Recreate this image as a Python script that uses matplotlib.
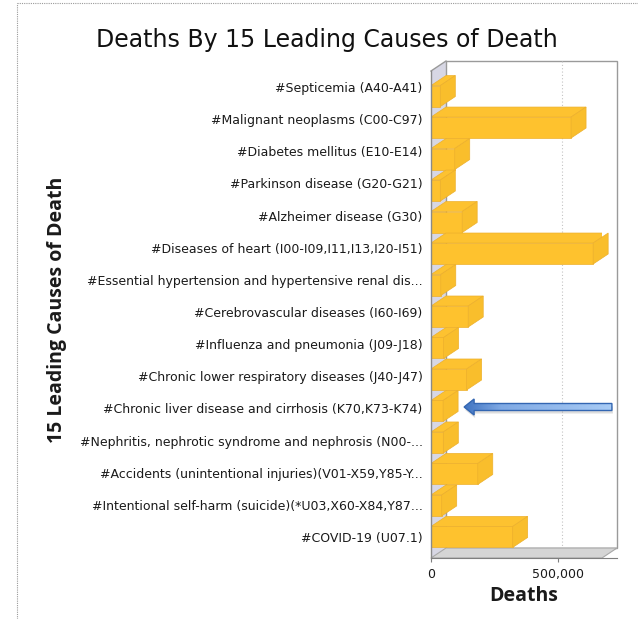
import numpy as np
import matplotlib
matplotlib.use("Agg")
import matplotlib.pyplot as plt
from matplotlib.patches import Polygon
from matplotlib.lines import Line2D

causes = [
    "#Septicemia (A40-A41)",
    "#Malignant neoplasms (C00-C97)",
    "#Diabetes mellitus (E10-E14)",
    "#Parkinson disease (G20-G21)",
    "#Alzheimer disease (G30)",
    "#Diseases of heart (I00-I09,I11,I13,I20-I51)",
    "#Essential hypertension and hypertensive renal dis...",
    "#Cerebrovascular diseases (I60-I69)",
    "#Influenza and pneumonia (J09-J18)",
    "#Chronic lower respiratory diseases (J40-J47)",
    "#Chronic liver disease and cirrhosis (K70,K73-K74)",
    "#Nephritis, nephrotic syndrome and nephrosis (N00-...",
    "#Accidents (unintentional injuries)(V01-X59,Y85-Y...",
    "#Intentional self-harm (suicide)(*U03,X60-X84,Y87...",
    "#COVID-19 (U07.1)",
]
deaths = [40000, 602000, 102000, 40000, 134000, 697000, 42000, 160000,
          54000, 153000, 52000, 53000, 201000, 46000, 351000]
x_ticks = [0, 500000]
x_tick_labels = ["0", "500,000"]
highlight = 10  # chronic liver disease

W, H, DPI = 638, 619, 100
fig = plt.figure(figsize=(W / DPI, H / DPI), dpi=DPI)


def px_box(x0, y0, x1, y1):
    return [x0 / W, 1 - y1 / H, (x1 - x0) / W, (y1 - y0) / H]


xmax = 735000
ylim = (14.655, -0.809)
ytop, ybot = ylim[1], ylim[0]

# axis carrying the labels spans the whole data area, bars live on the front plane
lab = fig.add_axes(px_box(431, 61, 617, 558))
ax = fig.add_axes(px_box(431, 71, 602, 558))
for a in (lab, ax):
    a.set_xlim(0, xmax)
    a.set_ylim(*ylim)
    a.patch.set_visible(False)
lab.set_zorder(3)

front_w = 171
front_h = 487
rows_per_px = (ybot - ytop) / front_h
ddx = xmax * 15 / front_w
ddy = 10 * rows_per_px

# walls and floor
ax.add_patch(Polygon([(0, ytop), (0, ybot), (ddx, ybot - ddy), (ddx, ytop - ddy)],
                     closed=True, fc="#D7D7E4", ec="none", clip_on=False, zorder=1))
ax.add_patch(Polygon([(ddx, ytop - ddy), (xmax + ddx, ytop - ddy),
                      (xmax + ddx, ybot - ddy), (ddx, ybot - ddy)],
                     closed=True, fill=False, ec="#9A9A9A", lw=1, clip_on=False, zorder=1))
ax.add_patch(Polygon([(0, ybot), (xmax, ybot), (xmax + ddx, ybot - ddy), (ddx, ybot - ddy)],
                     closed=True, fc="#D5D5D5", ec="#A8A8A8", lw=0.8, clip_on=False, zorder=2))
ax.plot([0, ddx], [ytop, ytop - ddy], color="#9A9A9A", lw=1, clip_on=False, zorder=2)
ax.plot([0, 0], [ytop, ybot], color="#8A8A8A", lw=1, clip_on=False, zorder=6)
for t in x_ticks[1:]:
    ax.plot([t + ddx, t + ddx], [ytop - ddy, ybot - ddy], color="#C4C4C4",
            lw=0.8, ls=(0, (1, 2)), clip_on=False, zorder=1)

# 3d bars
bot_off = 0.32
fh = 21 * rows_per_px
rows = np.arange(len(causes))
face = "#FEC22E"
edge = "#EDB02C"
ax.barh(rows + bot_off - fh / 2, deaths, height=fh, color=face, edgecolor=edge,
        lw=0.5, zorder=4)
for k, v in enumerate(deaths):
    yb = k + bot_off
    yt = yb - fh
    ax.add_patch(Polygon([(0, yt), (v, yt), (v + ddx, yt - ddy), (ddx, yt - ddy)],
                         closed=True, fc="#FDC230", ec=edge, lw=0.5, zorder=4))
    ax.add_patch(Polygon([(v, yt), (v + ddx, yt - ddy), (v + ddx, yb - ddy), (v, yb)],
                         closed=True, fc="#F9BE2C", ec=edge, lw=0.5, zorder=4,
                         clip_on=False))

ax.set_xticks([])
ax.set_yticks([])
for s in ax.spines.values():
    s.set_visible(False)

# labels
lab.set_yticks(rows, causes, fontsize=9, color="#1A1A1A")
lab.set_xticks(x_ticks, x_tick_labels, fontsize=9, color="#1A1A1A")
lab.tick_params(axis="y", length=0, pad=6)
lab.tick_params(axis="x", length=3, color="#7F7F7F", pad=4)
for side in ("top", "right", "left"):
    lab.spines[side].set_visible(False)
lab.spines["bottom"].set_color("#7F7F7F")
lab.set_xlabel("Deaths", fontsize=14, fontweight="bold", family="Open Sans",
               color="#1A1A1A", va="center")
lab.xaxis.set_label_coords(0.5, -0.076)
lab.set_ylabel("15 Leading Causes of Death", fontsize=14, fontweight="bold",
               family="Open Sans", color="#1A1A1A", va="center")
lab.yaxis.set_label_coords(-2.01, 0.5)

fig.text(327 / W, 1 - 40 / H, "Deaths By 15 Leading Causes of Death",
         ha="center", va="center", fontsize=17, color="#111111")

# arrow pointing at the highlighted bar
xpp = xmax / front_w
tip = deaths[highlight] + ddx + 6 * xpp
tail = xmax * 1.058
cy = highlight - 0.14
sh = 3.5 * rows_per_px
hh = 8 * rows_per_px
hl = 10 * xpp
arrow_pts = [(tip, cy), (tip + hl, cy - hh), (tip + hl, cy - sh), (tail, cy - sh),
             (tail, cy + sh), (tip + hl, cy + sh), (tip + hl, cy + hh)]
shadow = [(x + 1 * xpp, y + 3 * rows_per_px) for x, y in arrow_pts]
ax.add_patch(Polygon(shadow, closed=True, fc="#7A7A7A", ec="none", alpha=0.25,
                     clip_on=False, zorder=7))
arrow = Polygon(arrow_pts, closed=True, fc="none", ec="#3366B2", lw=1,
                clip_on=False, zorder=9)
ax.add_patch(arrow)
grad = np.linspace(0, 1, 256).reshape(1, -1)
cmap = matplotlib.colors.LinearSegmentedColormap.from_list(
    "blu", [(0, "#3F73C1"), (0.25, "#7FA9E4"), (1, "#A8CBF5")])
im = ax.imshow(grad, cmap=cmap, aspect="auto", extent=(tip, tail, cy + hh, cy - hh),
               interpolation="bilinear", zorder=8)
im.set_clip_box(fig.bbox)
im.set_clip_path(arrow)
ax.set_xlim(0, xmax)
ax.set_ylim(*ylim)

# dotted frame
fig.add_artist(Line2D([17 / W, 17 / W], [0, 1 - 3 / H], transform=fig.transFigure,
                      color="#9A9A9A", lw=0.8, ls=(0, (1, 1))))
fig.add_artist(Line2D([17 / W, 1], [1 - 3 / H, 1 - 3 / H], transform=fig.transFigure,
                      color="#9A9A9A", lw=0.8, ls=(0, (1, 1))))

fig.savefig("out.png", dpi=DPI)
